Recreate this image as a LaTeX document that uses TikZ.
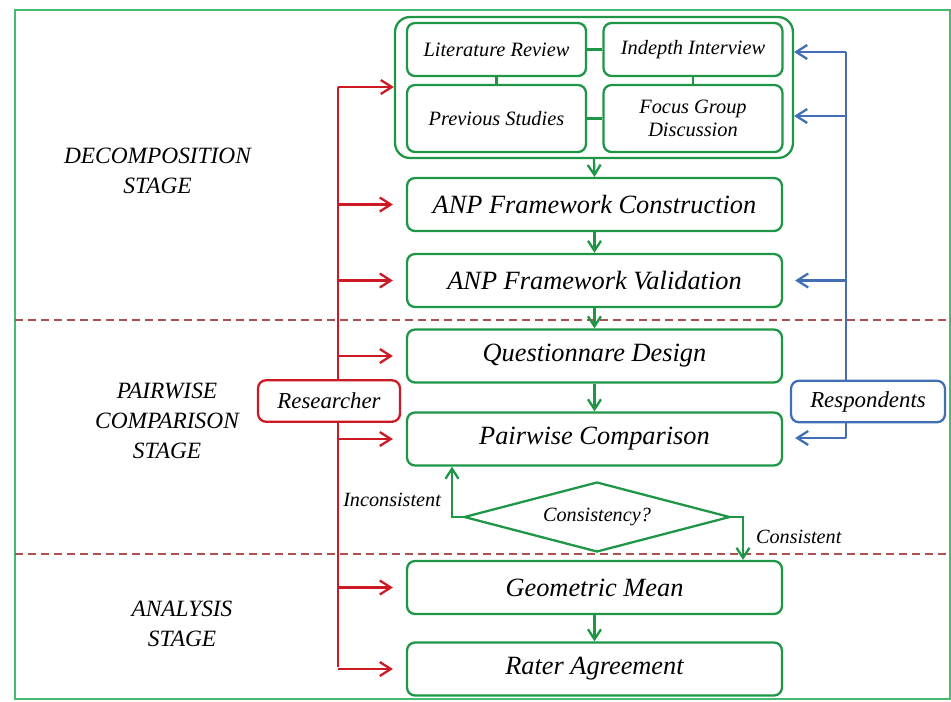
\documentclass[tikz,border=0pt]{standalone}
\usepackage{fontspec}
\setmainfont{Liberation Serif}
\usetikzlibrary{arrows.meta,shapes.geometric}
\definecolor{boxgreen}{RGB}{30,150,70}
\definecolor{framegreen}{RGB}{70,185,115}
\definecolor{resred}{RGB}{205,25,35}
\definecolor{respblue}{RGB}{65,110,180}
\definecolor{stagered}{RGB}{175,80,80}
\begin{document}
\begin{tikzpicture}[
  x=0.02cm, y=-0.02cm,
  every node/.style={align=center,inner sep=1pt,font=\itshape},
  stepbox/.style={draw=boxgreen,fill=white,line width=1.3pt,rounded corners=1.6mm,minimum width=7.5cm,minimum height=1.06cm,font=\itshape\fontsize{15}{18}\selectfont},
  srcbox/.style={draw=boxgreen,fill=white,line width=1.3pt,rounded corners=1.6mm,minimum width=3.58cm,font=\itshape\fontsize{11.6}{13}\selectfont},
  actorbox/.style={fill=white,line width=1.3pt,rounded corners=1.6mm,minimum height=0.83cm,font=\itshape\fontsize{13}{15}\selectfont},
  stagelabel/.style={font=\itshape\fontsize{13.3}{17}\selectfont},
  smalllabel/.style={font=\itshape\fontsize{11.5}{13}\selectfont},
  flow/.style={draw=boxgreen,line width=1.3pt,-{Straight Barb[length=2mm,width=2.6mm]}},
  resline/.style={draw=resred,line width=1.3pt},
  resarrow/.style={resline,-{Straight Barb[length=2.2mm,width=2.8mm]}},
  respline/.style={draw=respblue,line width=1.3pt},
  resparrow/.style={respline,-{Straight Barb[length=2.2mm,width=2.8mm]}},
  stageline/.style={draw=stagered,line width=0.8pt,dash pattern=on 1.6mm off 1mm}
]
\useasboundingbox (0,0) rectangle (951,701);
\draw[framegreen,line width=1.3pt] (15,10) rectangle (950,699);

\draw[stageline] (15,320) -- (950,320);
\draw[stageline] (15,554) -- (950,554);

\node[stagelabel] (decomp) at (157.5,171) {DECOMPOSITION\\STAGE};
\node[stagelabel] (pairwise) at (167,421) {PAIRWISE\\COMPARISON\\STAGE};
\node[stagelabel] (analysis) at (182,623.5) {ANALYSIS\\STAGE};

\node[draw=boxgreen,line width=1.3pt,rounded corners=3mm,minimum width=7.96cm,minimum height=2.82cm] (grp) at (594,87.5) {};
\node[srcbox,minimum height=1.06cm] (lr) at (496.5,49.5) {Literature Review};
\node[srcbox,minimum height=1.06cm] (ii) at (693,49.5) {Indepth Interview};
\node[srcbox,minimum height=1.34cm] (ps) at (496.5,118.5) {Previous Studies};
\node[srcbox,minimum height=1.34cm] (fgd) at (693,118.5) {Focus Group\\Discussion};
\draw[boxgreen,line width=1.3pt] (lr) -- (ii);
\draw[boxgreen,line width=1.3pt] (lr) -- (ps);
\draw[boxgreen,line width=1.3pt] (ii) -- (fgd);
\draw[boxgreen,line width=1.3pt] (ps) -- (fgd);

\node[stepbox] (fc) at (594.5,204.5) {ANP Framework Construction};
\node[stepbox] (fv) at (594.5,280.5) {ANP Framework Validation};
\node[stepbox] (qd) at (594.5,356) {Questionnare Design};
\node[stepbox] (pc) at (594.5,439) {Pairwise Comparison};
\node[diamond,draw=boxgreen,line width=1.3pt,minimum width=5.32cm,minimum height=1.4cm,inner sep=0pt,aspect=3.8,smalllabel] (dia) at (597,517) {Consistency?};
\node[stepbox] (gm) at (594.5,587.5) {Geometric Mean};
\node[stepbox] (ra) at (594.5,669) {Rater Agreement};

\draw[flow] (grp.south) -- (fc.north);
\draw[flow] (fc) -- (fv);
\draw[flow] (fv) -- (qd);
\draw[flow] (qd) -- (pc);
\draw[flow] (gm) -- (ra);

\coordinate (inc) at (452,517);
\coordinate (con) at (743,517);
\draw[flow] (dia.west) -- (inc) -- (inc |- pc.south);
\draw[flow] (dia.east) -- (con) -- (con |- gm.north);
\node[smalllabel,anchor=east] (inclabel) at (443,500) {Inconsistent};
\node[smalllabel,anchor=west] (conlabel) at (754,537) {Consistent};

\coordinate (rtop) at (338,87);
\coordinate (rbot) at (338,667);
\draw[resline] (rtop) -- (rbot);
\draw[resarrow] (rtop) -- (rtop -| grp.west);
\foreach \stepname in {fc,fv,qd,pc,gm,ra}
  \draw[resarrow,shorten >=0.26cm] (\stepname.west -| rtop) -- (\stepname.west);
\node[actorbox,draw=resred,minimum width=2.84cm] (researcher) at (329,401) {Researcher};

\coordinate (btop) at (846,52);
\coordinate (bbot) at (846,438);
\draw[respline] (btop) -- (bbot);
\draw[resparrow] (btop) -- (btop -| grp.east);
\draw[resparrow] (846,116) coordinate (bmid) -- (bmid -| grp.east);
\draw[resparrow,shorten >=0.24cm] (fv.east -| btop) -- (fv.east);
\draw[resparrow,shorten >=0.24cm] (bbot) -- (bbot -| pc.east);
\node[actorbox,draw=respblue,minimum width=3.08cm] (respondents) at (868,401.5) {Respondents};
\end{tikzpicture}
\end{document}
